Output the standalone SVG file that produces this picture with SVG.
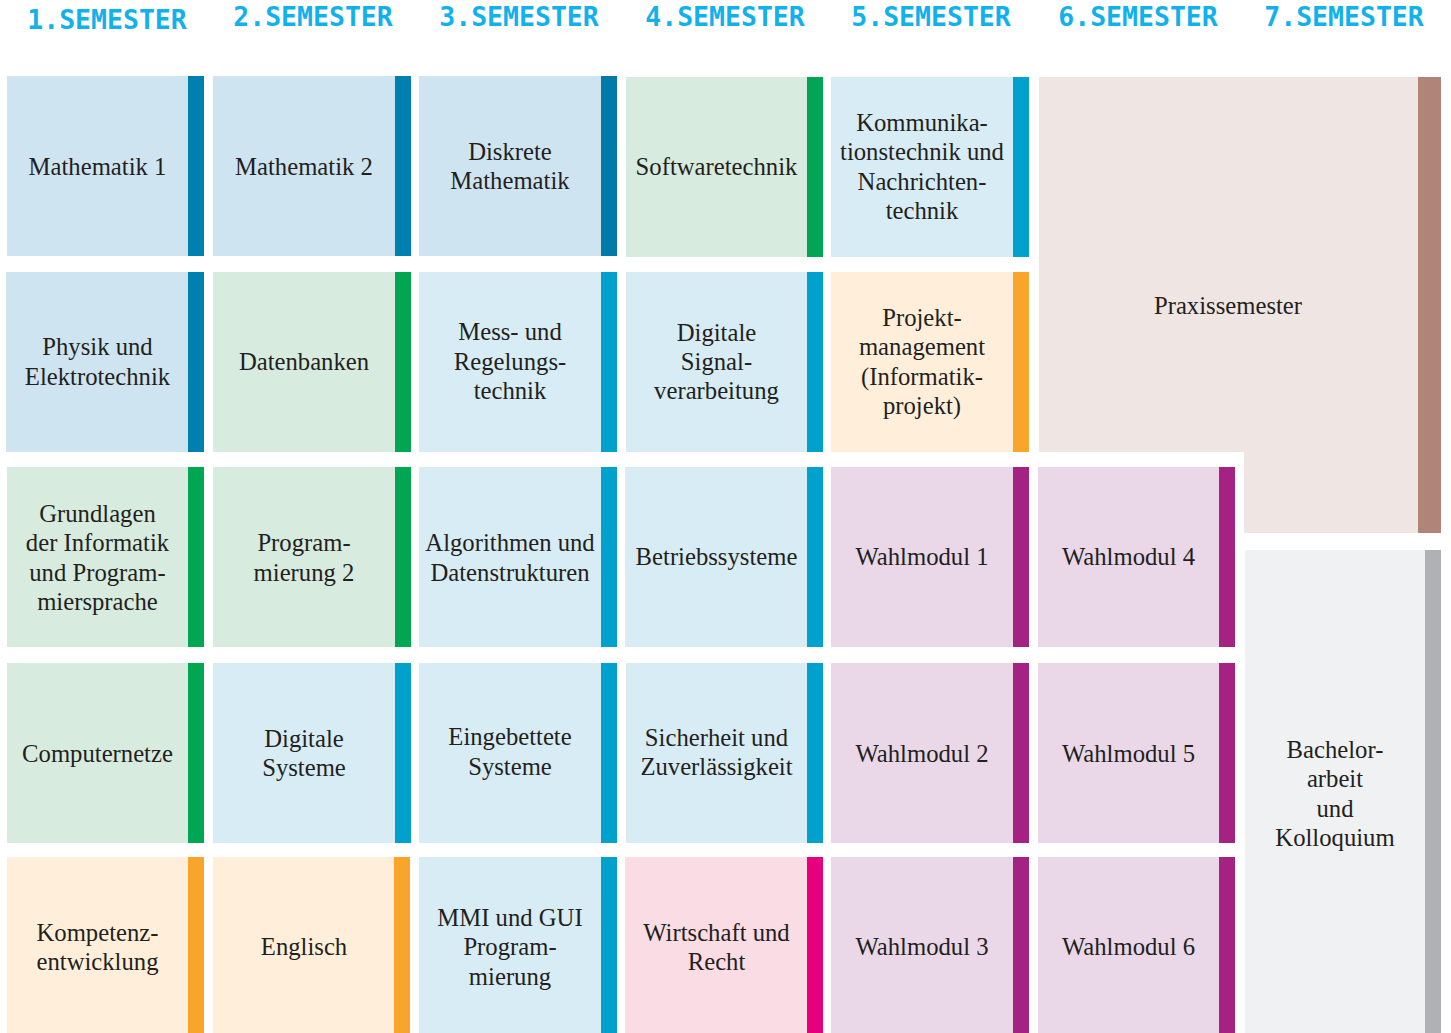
<svg xmlns="http://www.w3.org/2000/svg" width="1451" height="1033" viewBox="0 0 1451 1033">
<style>
.h{font-family:"DejaVu Sans Mono","Liberation Mono",monospace;font-weight:bold;font-size:26.5px;fill:#12b1ec;text-anchor:middle}
.t{font-family:"Liberation Serif","Times New Roman",serif;font-size:24.7px;fill:#231f20;text-anchor:middle}
.bB{fill:#cfe4f1}.sB{fill:#0080b0}
.bC{fill:#d7ecf5}.sC{fill:#00a2cd}
.bG{fill:#d7ebdf}.sG{fill:#00a651}
.bO{fill:#ffefda}.sO{fill:#f9a52b}
.bP{fill:#ead8e8}.sP{fill:#a32282}
.bR{fill:#fadce4}.sR{fill:#e6007e}
</style>
<rect width="1451" height="1033" fill="#ffffff"/>
<g id="headers">
<text class="h" x="107" y="29">1.SEMESTER</text>
<text class="h" x="313" y="26">2.SEMESTER</text>
<text class="h" x="519" y="26">3.SEMESTER</text>
<text class="h" x="725" y="26">4.SEMESTER</text>
<text class="h" x="931" y="26">5.SEMESTER</text>
<text class="h" x="1138" y="26">6.SEMESTER</text>
<text class="h" x="1344" y="26">7.SEMESTER</text>
</g>
<g id="praxissemester">
<path d="M1039,77 H1441 V533 H1244 V452 H1039 Z" fill="#efe5e3"/>
<rect x="1418" y="77" width="23" height="456" fill="#b08478"/>
<text class="t" x="1228" y="314">Praxissemester</text>
</g>
<g id="bachelorarbeit">
<rect x="1245" y="550" width="196" height="483" fill="#f0f1f3"/>
<rect x="1425" y="550" width="16" height="483" fill="#b0b1b5"/>
<text class="t" x="1335" y="758">Bachelor-</text>
<text class="t" x="1335" y="787">arbeit</text>
<text class="t" x="1335" y="817">und</text>
<text class="t" x="1335" y="846">Kolloquium</text>
</g>
<!-- Row 1 -->
<g id="mathematik1"><rect class="bB" x="7" y="76" width="181" height="180"/><rect class="sB" x="188" y="76" width="16" height="180"/>
<text class="t" x="97.5" y="175">Mathematik 1</text></g>
<g id="mathematik2"><rect class="bB" x="213" y="76" width="182" height="180"/><rect class="sB" x="395" y="76" width="16" height="180"/>
<text class="t" x="304" y="175">Mathematik 2</text></g>
<g id="diskrete-mathematik"><rect class="bB" x="419" y="76" width="182" height="180"/><rect x="601" y="76" width="16" height="180" fill="#007aa8"/>
<text class="t" x="510" y="160">Diskrete</text><text class="t" x="510" y="189">Mathematik</text></g>
<g id="softwaretechnik"><rect class="bG" x="626" y="77" width="181" height="180"/><rect class="sG" x="807" y="77" width="16" height="180"/>
<text class="t" x="716.5" y="175">Softwaretechnik</text></g>
<g id="kommunikationstechnik"><rect class="bC" x="831" y="77" width="182" height="180"/><rect class="sC" x="1013" y="77" width="16" height="180"/>
<text class="t" x="922" y="131">Kommunika-</text><text class="t" x="922" y="160">tionstechnik und</text><text class="t" x="922" y="190">Nachrichten-</text><text class="t" x="922" y="219">technik</text></g>
<!-- Row 2 -->
<g id="physik-elektrotechnik"><rect class="bB" x="6" y="272" width="182" height="180"/><rect class="sB" x="188" y="272" width="16" height="180"/>
<text class="t" x="97.5" y="355">Physik und</text><text class="t" x="97.5" y="385">Elektrotechnik</text></g>
<g id="datenbanken"><rect class="bG" x="213" y="272" width="182" height="180"/><rect class="sG" x="395" y="272" width="16" height="180"/>
<text class="t" x="304" y="370">Datenbanken</text></g>
<g id="mess-regelungstechnik"><rect class="bC" x="419" y="272" width="182" height="180"/><rect class="sC" x="601" y="272" width="16" height="180"/>
<text class="t" x="510" y="340">Mess- und</text><text class="t" x="510" y="370">Regelungs-</text><text class="t" x="510" y="399">technik</text></g>
<g id="digitale-signalverarbeitung"><rect class="bC" x="626" y="272" width="181" height="180"/><rect class="sC" x="807" y="272" width="16" height="180"/>
<text class="t" x="716.5" y="341">Digitale</text><text class="t" x="716.5" y="370">Signal-</text><text class="t" x="716.5" y="399">verarbeitung</text></g>
<g id="projektmanagement"><rect class="bO" x="831" y="272" width="182" height="180"/><rect class="sO" x="1013" y="272" width="16" height="180"/>
<text class="t" x="922" y="326">Projekt-</text><text class="t" x="922" y="355">management</text><text class="t" x="922" y="385">(Informatik-</text><text class="t" x="922" y="414">projekt)</text></g>
<!-- Row 3 -->
<g id="grundlagen-informatik"><rect class="bG" x="7" y="467" width="181" height="180"/><rect class="sG" x="188" y="467" width="16" height="180"/>
<text class="t" x="97.5" y="522">Grundlagen</text><text class="t" x="97.5" y="551">der Informatik</text><text class="t" x="97.5" y="581">und Program-</text><text class="t" x="97.5" y="610">miersprache</text></g>
<g id="programmierung2"><rect class="bG" x="213" y="467" width="182" height="180"/><rect class="sG" x="395" y="467" width="16" height="180"/>
<text class="t" x="304" y="551">Program-</text><text class="t" x="304" y="581">mierung 2</text></g>
<g id="algorithmen"><rect class="bC" x="419" y="467" width="182" height="180"/><rect class="sC" x="601" y="467" width="16" height="180"/>
<text class="t" x="510" y="551">Algorithmen und</text><text class="t" x="510" y="581">Datenstrukturen</text></g>
<g id="betriebssysteme"><rect class="bC" x="625" y="467" width="182" height="180"/><rect class="sC" x="807" y="467" width="16" height="180"/>
<text class="t" x="716.5" y="565">Betriebssysteme</text></g>
<g id="wahlmodul1"><rect class="bP" x="831" y="467" width="182" height="180"/><rect class="sP" x="1013" y="467" width="16" height="180"/>
<text class="t" x="922" y="565">Wahlmodul 1</text></g>
<g id="wahlmodul4"><rect class="bP" x="1038" y="467" width="181" height="180"/><rect class="sP" x="1219" y="467" width="16" height="180"/>
<text class="t" x="1128.5" y="565">Wahlmodul 4</text></g>
<!-- Row 4 -->
<g id="computernetze"><rect class="bG" x="7" y="663" width="181" height="180"/><rect class="sG" x="188" y="663" width="16" height="180"/>
<text class="t" x="97.5" y="762">Computernetze</text></g>
<g id="digitale-systeme"><rect class="bC" x="213" y="663" width="182" height="180"/><rect class="sC" x="395" y="663" width="16" height="180"/>
<text class="t" x="304" y="747">Digitale</text><text class="t" x="304" y="776">Systeme</text></g>
<g id="eingebettete-systeme"><rect class="bC" x="419" y="663" width="182" height="180"/><rect class="sC" x="601" y="663" width="16" height="180"/>
<text class="t" x="510" y="745">Eingebettete</text><text class="t" x="510" y="775">Systeme</text></g>
<g id="sicherheit"><rect class="bC" x="626" y="663" width="181" height="180"/><rect class="sC" x="807" y="663" width="16" height="180"/>
<text class="t" x="716.5" y="746">Sicherheit und</text><text class="t" x="716.5" y="775">Zuverlässigkeit</text></g>
<g id="wahlmodul2"><rect class="bP" x="831" y="663" width="182" height="180"/><rect class="sP" x="1013" y="663" width="16" height="180"/>
<text class="t" x="922" y="762">Wahlmodul 2</text></g>
<g id="wahlmodul5"><rect class="bP" x="1038" y="663" width="181" height="180"/><rect class="sP" x="1219" y="663" width="16" height="180"/>
<text class="t" x="1128.5" y="762">Wahlmodul 5</text></g>
<!-- Row 5 -->
<g id="kompetenzentwicklung"><rect class="bO" x="7" y="857" width="181" height="176"/><rect class="sO" x="188" y="857" width="16" height="176"/>
<text class="t" x="97.5" y="941">Kompetenz-</text><text class="t" x="97.5" y="970">entwicklung</text></g>
<g id="englisch"><rect class="bO" x="213" y="857" width="182" height="176"/><rect class="sO" x="394" y="857" width="16" height="176"/>
<text class="t" x="304" y="955">Englisch</text></g>
<g id="mmi-gui"><rect class="bC" x="419" y="857" width="182" height="176"/><rect class="sC" x="601" y="857" width="16" height="176"/>
<text class="t" x="510" y="926">MMI und GUI</text><text class="t" x="510" y="955">Program-</text><text class="t" x="510" y="985">mierung</text></g>
<g id="wirtschaft-recht"><rect class="bR" x="625" y="857" width="182" height="176"/><rect class="sR" x="807" y="857" width="16" height="176"/>
<text class="t" x="716.5" y="941">Wirtschaft und</text><text class="t" x="716.5" y="970">Recht</text></g>
<g id="wahlmodul3"><rect class="bP" x="831" y="857" width="182" height="176"/><rect class="sP" x="1013" y="857" width="16" height="176"/>
<text class="t" x="922" y="955">Wahlmodul 3</text></g>
<g id="wahlmodul6"><rect class="bP" x="1038" y="857" width="181" height="176"/><rect class="sP" x="1219" y="857" width="16" height="176"/>
<text class="t" x="1128.5" y="955">Wahlmodul 6</text></g>
</svg>
